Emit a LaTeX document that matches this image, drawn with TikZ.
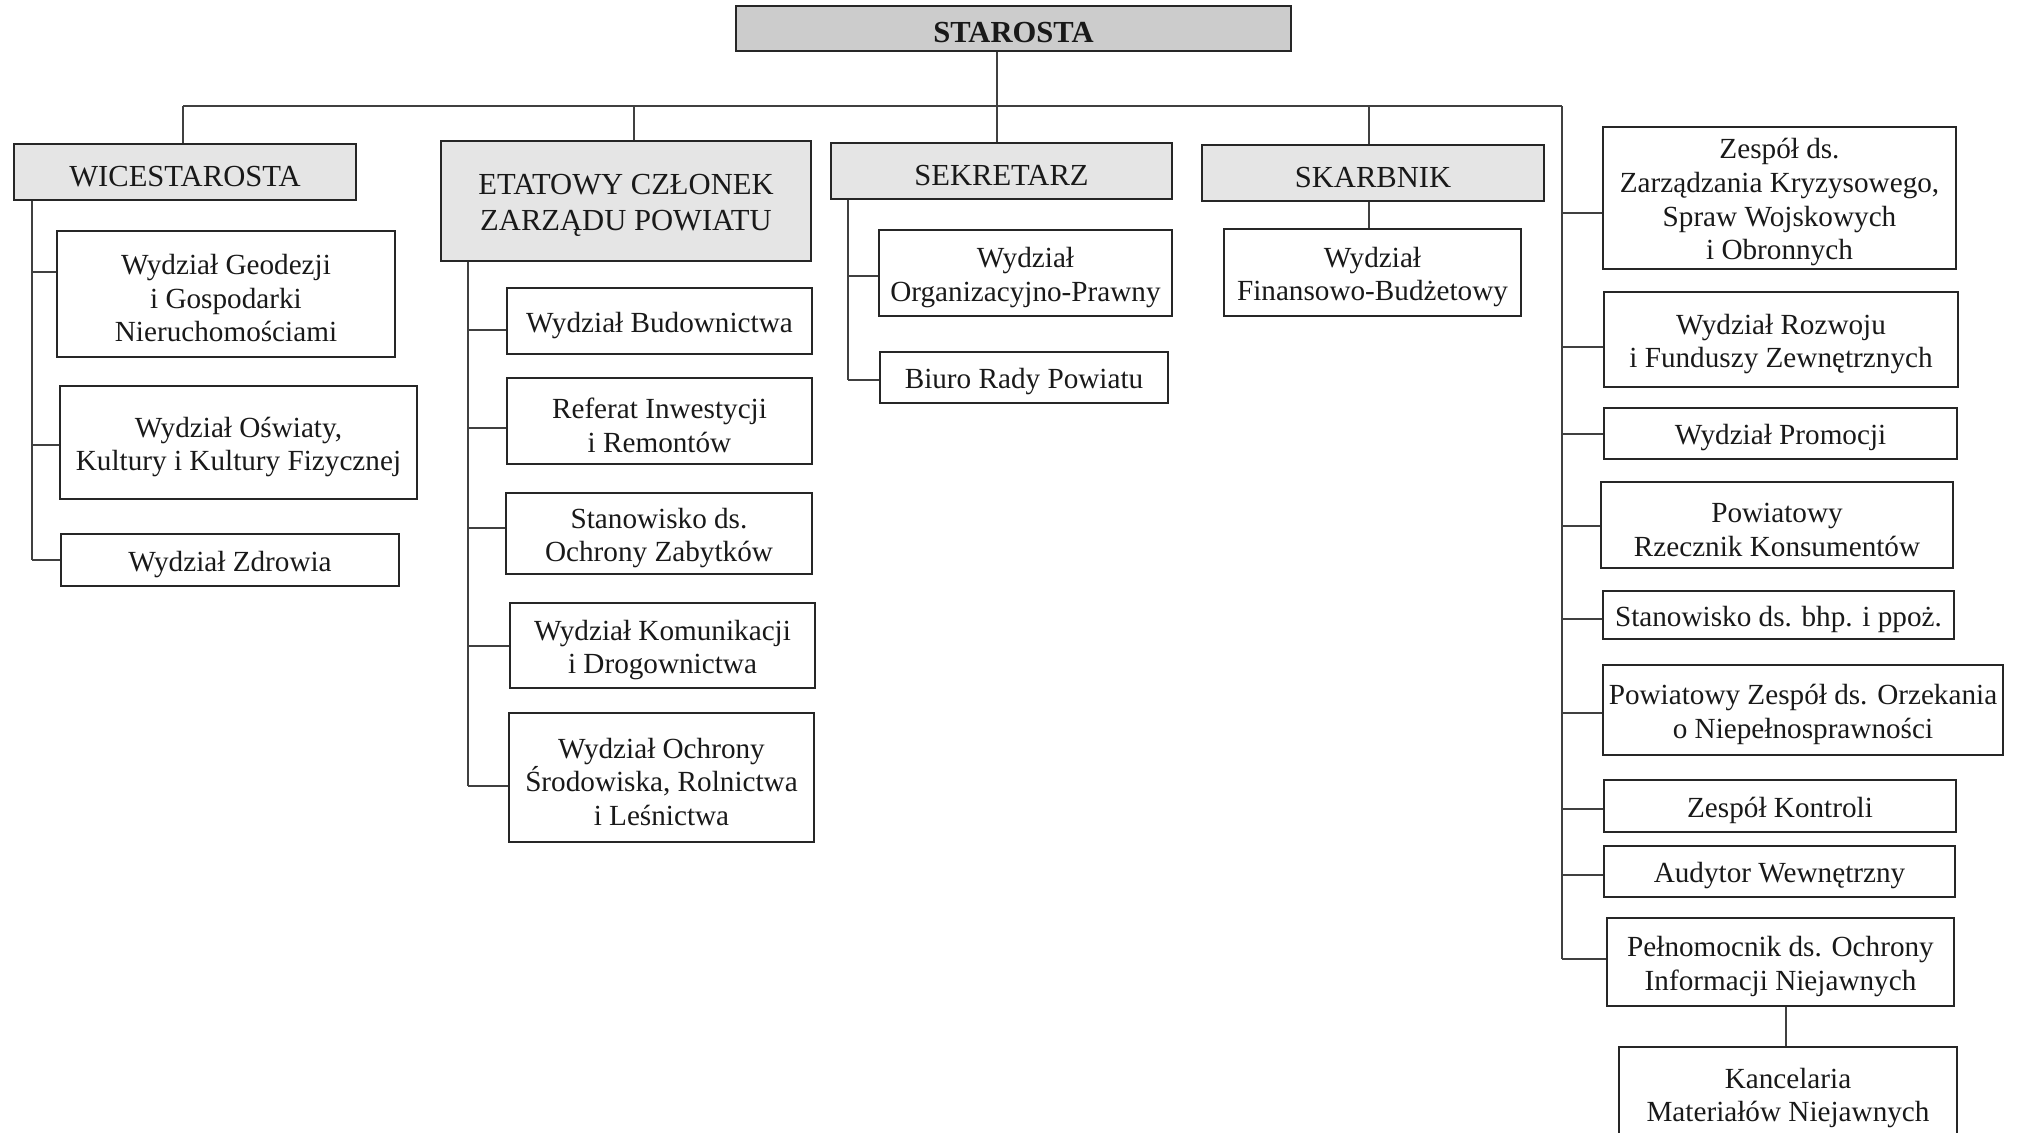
\documentclass[tikz,border=0pt]{standalone}
\usepackage{fontspec}
\setmainfont{Liberation Serif}
\newcommand\fs{\rule{0pt}{14.5pt}}
\begin{document}
\begin{tikzpicture}[x=0.5pt,y=-0.5pt,
  bx/.style={draw=black!85,line width=0.7pt,inner sep=0pt,align=center,
    font=\fontsize{14.6pt}{16.8pt}\selectfont,text=black!90},
  hd/.style={bx,fill=black!10,font=\fontsize{15.3pt}{18pt}\selectfont},
  top/.style={bx,fill=black!20,font=\fontsize{15.3pt}{18pt}\selectfont\bfseries},
  ln/.style={draw=black!75,line width=0.65pt}]
\useasboundingbox (0,0) rectangle (2020,1132);
\begin{scope}
\clip (0,0) rectangle (2020,1132);
% top
\node[top,minimum width=277.5pt,minimum height=22.5pt] (st) at (1013.5,28.5) {\fs STAROSTA};
% heads
\node[hd,minimum width=171pt,minimum height=28pt] (wic) at (185,172) {\fs WICESTAROSTA};
\node[hd,minimum width=185pt,minimum height=60pt] (eta) at (626,201) {\fs ETATOWY CZŁONEK\\ZARZĄDU POWIATU};
\node[hd,minimum width=170.5pt,minimum height=28pt] (sek) at (1001.5,171) {\fs SEKRETARZ};
\node[hd,minimum width=171pt,minimum height=28pt] (ska) at (1373,173) {\fs SKARBNIK};
% left column
\node[bx,minimum width=169pt,minimum height=63pt] (geo) at (226,294) {\fs Wydział Geodezji\\i Gospodarki\\Nieruchomościami};
\node[bx,minimum width=178.5pt,minimum height=56.5pt] (osw) at (238.5,442.5) {\fs Wydział Oświaty,\\Kultury i Kultury Fizycznej};
\node[bx,minimum width=169pt,minimum height=26pt] (zdr) at (230,560) {\fs Wydział Zdrowia};
% eta column
\node[bx,minimum width=152.5pt,minimum height=33pt] (bud) at (659.5,321) {\fs Wydział Budownictwa};
\node[bx,minimum width=152.5pt,minimum height=43pt] (ref) at (659.5,421) {\fs Referat Inwestycji\\i Remontów};
\node[bx,minimum width=153pt,minimum height=40.5pt] (zab) at (659,533.5) {\fs Stanowisko ds.\\Ochrony Zabytków};
\node[bx,minimum width=152.5pt,minimum height=42.5pt] (kom) at (662.5,645.5) {\fs Wydział Komunikacji\\i Drogownictwa};
\node[bx,minimum width=152.5pt,minimum height=64.5pt] (sro) at (661.5,777.5) {\fs Wydział Ochrony\\Środowiska, Rolnictwa\\i Leśnictwa};
% sek column
\node[bx,minimum width=146.5pt,minimum height=43pt] (org) at (1025.5,273) {\fs Wydział\\Organizacyjno-Prawny};
\node[bx,minimum width=144pt,minimum height=25.5pt] (biu) at (1024,377.5) {\fs Biuro Rady Powiatu};
% ska
\node[bx,minimum width=148.5pt,minimum height=43.5pt] (fin) at (1372.5,272.5) {\fs Wydział\\Finansowo-Budżetowy};
% right column
\node[bx,minimum width=176.5pt,minimum height=71pt] (zzk) at (1779.5,198) {\fs Zespół ds.\\Zarządzania Kryzysowego,\\Spraw Wojskowych\\i Obronnych};
\node[bx,minimum width=177pt,minimum height=47.5pt] (roz) at (1781,339.5) {\fs Wydział Rozwoju\\i Funduszy Zewnętrznych};
\node[bx,minimum width=176.5pt,minimum height=25.5pt] (pro) at (1780.5,433.5) {\fs Wydział Promocji};
\node[bx,minimum width=176pt,minimum height=43pt] (rze) at (1777,525) {\fs Powiatowy\\Rzecznik Konsumentów};
\node[bx,minimum width=175.5pt,minimum height=24pt] (bhp) at (1778.5,615) {\fs Stanowisko ds. bhp. i ppoż.};
\node[bx,minimum width=200pt,minimum height=45pt] (orz) at (1803,710) {\fs Powiatowy Zespół ds. Orzekania\\o Niepełnosprawności};
\node[bx,minimum width=176pt,minimum height=26pt] (kon) at (1780,806) {\fs Zespół Kontroli};
\node[bx,minimum width=175.5pt,minimum height=25.5pt] (aud) at (1779.5,871.5) {\fs Audytor Wewnętrzny};
\node[bx,minimum width=173.5pt,minimum height=44pt] (pel) at (1780.5,962) {\fs Pełnomocnik ds. Ochrony\\Informacji Niejawnych};
\node[bx,minimum width=169pt,minimum height=46.5pt] (kan) at (1788,1093.5) {\fs Kancelaria\\Materiałów Niejawnych};

% bus coordinates
\coordinate (busL) at (183,106);
\coordinate (busR) at (1562,106);
\coordinate (dEta) at (634,106);
\coordinate (dSt) at (997,106);
\coordinate (dSka) at (1369,106);
\draw[ln] (busL) -- (busR);
\draw[ln] (dSt |- st.south) -- (dSt |- sek.north);
\draw[ln] (busL) -- (busL |- wic.north);
\draw[ln] (dEta) -- (dEta |- eta.north);
\draw[ln] (dSka) -- (dSka |- ska.north);
\draw[ln] (dSka |- ska.south) -- (dSka |- fin.north);
% left column
\coordinate (vW) at (32,0);
\coordinate (sGeo) at (32,272);
\coordinate (sOsw) at (32,445);
\coordinate (sZdr) at (32,560);
\draw[ln] (vW |- wic.south) -- (sZdr);
\draw[ln] (sGeo) -- (sGeo -| geo.west);
\draw[ln] (sOsw) -- (sOsw -| osw.west);
\draw[ln] (sZdr) -- (sZdr -| zdr.west);
% eta column
\coordinate (vE) at (468,0);
\coordinate (sBud) at (468,330);
\coordinate (sRef) at (468,428);
\coordinate (sZab) at (468,528);
\coordinate (sKom) at (468,646);
\coordinate (sSro) at (468,786);
\draw[ln] (vE |- eta.south) -- (sSro);
\draw[ln] (sBud) -- (sBud -| bud.west);
\draw[ln] (sRef) -- (sRef -| ref.west);
\draw[ln] (sZab) -- (sZab -| zab.west);
\draw[ln] (sKom) -- (sKom -| kom.west);
\draw[ln] (sSro) -- (sSro -| sro.west);
% sek column
\coordinate (vS) at (848,0);
\coordinate (sOrg) at (848,276);
\coordinate (sBiu) at (848,380);
\draw[ln] (vS |- sek.south) -- (sBiu);
\draw[ln] (sOrg) -- (sOrg -| org.west);
\draw[ln] (sBiu) -- (sBiu -| biu.west);
% right column
\coordinate (sZzk) at (1562,213);
\coordinate (sRoz) at (1562,347);
\coordinate (sPro) at (1562,434);
\coordinate (sRze) at (1562,526);
\coordinate (sBhp) at (1562,619);
\coordinate (sOrz) at (1562,713);
\coordinate (sKon) at (1562,809);
\coordinate (sAud) at (1562,875);
\coordinate (sPel) at (1562,959);
\draw[ln] (busR) -- (sPel);
\draw[ln] (sZzk) -- (sZzk -| zzk.west);
\draw[ln] (sRoz) -- (sRoz -| roz.west);
\draw[ln] (sPro) -- (sPro -| pro.west);
\draw[ln] (sRze) -- (sRze -| rze.west);
\draw[ln] (sBhp) -- (sBhp -| bhp.west);
\draw[ln] (sOrz) -- (sOrz -| orz.west);
\draw[ln] (sKon) -- (sKon -| kon.west);
\draw[ln] (sAud) -- (sAud -| aud.west);
\draw[ln] (sPel) -- (sPel -| pel.west);
\coordinate (dPel) at (1786,0);
\draw[ln] (dPel |- pel.south) -- (dPel |- kan.north);
\end{scope}
\end{tikzpicture}
\end{document}
